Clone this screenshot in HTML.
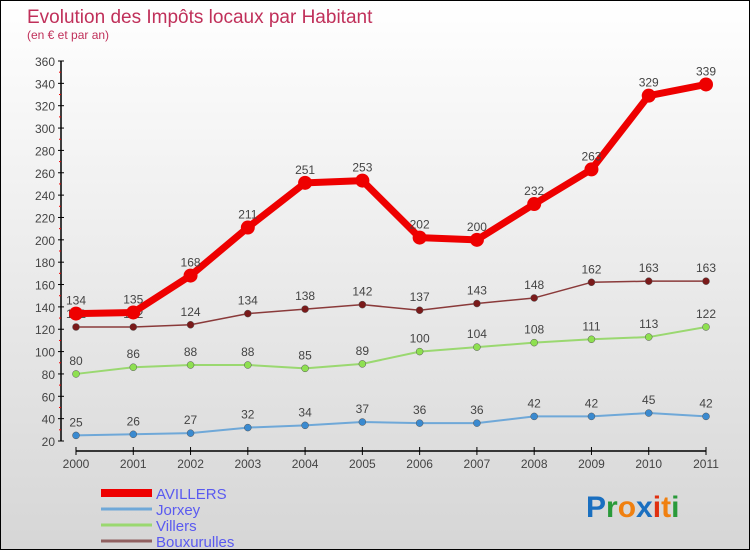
<!DOCTYPE html>
<html><head><meta charset="utf-8"><style>
html,body{margin:0;padding:0}
body{width:750px;height:550px;overflow:hidden;font-family:"Liberation Sans",sans-serif}
#wrap{position:relative;width:748px;height:548px;border:1px solid #000;background:linear-gradient(#ffffff,#d6d6d6)}
</style></head><body>
<div id="wrap">
<svg id="chart" width="748" height="548" xmlns="http://www.w3.org/2000/svg">
<text x="26" y="22" font-size="19" fill="#c0305a">Evolution des Impôts locaux par Habitant</text>
<text x="26" y="38" font-size="12" fill="#c0305a">(en € et par an)</text>
<g id="axes"></g>
<g id="series"></g>
<g id="legend"></g>
<text x="585" y="516" font-size="30" font-weight="bold"><tspan fill="#1a6fc0">P</tspan><tspan fill="#2a9a3a">r</tspan><tspan fill="#f08010">o</tspan><tspan fill="#1a6fc0">x</tspan><tspan fill="#e03010">i</tspan><tspan fill="#f08010">t</tspan><tspan fill="#2a9a3a">i</tspan></text>
</svg>
</div>
<script>
const years = [2000,2001,2002,2003,2004,2005,2006,2007,2008,2009,2010,2011];
const avillers = [134,135,168,211,251,253,202,200,232,263,329,339];
const jorxey = [25,26,27,32,34,37,36,36,42,42,45,42];
const villers = [80,86,88,88,85,89,100,104,108,111,113,122];
const bouxurulles = [122,122,124,134,138,142,137,143,148,162,163,163];
const yTicks = [20,40,60,80,100,120,140,160,180,200,220,240,260,280,300,320,340,360];
const seriesNames = ["AVILLERS","Jorxey","Villers","Bouxurulles"];

const NS="http://www.w3.org/2000/svg";
function X(i){return 75+i*(630/(years.length-1));}
function Y(v){return 440-(v-20)*(380/340);}
function mk(tag,attrs,parent){const e=document.createElementNS(NS,tag);for(const k in attrs)e.setAttribute(k,attrs[k]);parent.appendChild(e);return e;}

const axes=document.getElementById('axes');
let yl=mk('line',{x1:60,y1:Y(360),x2:60,y2:440,stroke:'#000','stroke-width':1.5},axes);


yTicks.forEach((t,i)=>{
  const tk=mk('line',{x1:57,y1:Y(t),x2:63,y2:Y(t),stroke:'#000'},axes);
  
  
  const lb=mk('text',{x:54,y:Y(t)+5,'font-size':12,'text-anchor':'end',fill:'#444'},axes);
  lb.textContent=t;
  
  
  if(i<yTicks.length-1){
    const m=mk('line',{x1:58,y1:Y(t+10),x2:60,y2:Y(t+10),stroke:'#e00'},axes);
    
    
  }
});
let xl=mk('line',{x1:75,y1:450,x2:705,y2:450,stroke:'#000','stroke-width':1.5},axes);


years.forEach((y,i)=>{
  const tk=mk('line',{x1:X(i),y1:446,x2:X(i),y2:454,stroke:'#000'},axes);
  
  
  const lb=mk('text',{x:X(i),y:467,'font-size':12,'text-anchor':'middle',fill:'#444'},axes);
  lb.textContent=y;
  
  
});

const sg=document.getElementById('series');
function drawSeries(vals,name,color,lw,r,ptColor){
  const g=mk('g',{},sg);
  
  
  const pts=vals.map((v,i)=>X(i)+','+Y(v)).join(' ');
  const pl=mk('polyline',{points:pts,fill:'none',stroke:color,'stroke-width':lw,'stroke-linejoin':'round'},g);
  
  
  vals.forEach((v,i)=>{
    const c=mk('circle',{cx:X(i),cy:Y(v),r:r,fill:ptColor,stroke:color==='#ee0000'?'none':'#555','stroke-width':0.5},g);
    
    
    const t=mk('text',{x:X(i),y:Y(v)-9,'font-size':12,'text-anchor':'middle',fill:'#444'},g);
    t.textContent=v;
    
    
  });
}
drawSeries(jorxey,'jorxey','#6fa8d8',2,3.5,'#3a8ad0');
drawSeries(villers,'villers','#9ad870',2,3.5,'#8ee050');
drawSeries(bouxurulles,'bouxurulles','#8a3a3a',1.5,3.5,'#7a1a1a');
drawSeries(avillers,'avillers','#ee0000',7,7,'#ee0000');

const lg=document.getElementById('legend');
const lcol=['#ee0000','#6fa8d8','#9ad870','#906060'];
const lw=[8,3,3,3];
seriesNames.forEach((n,i)=>{
  const y=492+i*16;
  const l=mk('line',{x1:100,y1:y,x2:151,y2:y,stroke:lcol[i],'stroke-width':lw[i]},lg);
  
  
  const t=mk('text',{x:155,y:y+6,'font-size':15,fill:'#5a5af0'},lg);
  t.textContent=n;
  
  
});
</script>
</body></html>
